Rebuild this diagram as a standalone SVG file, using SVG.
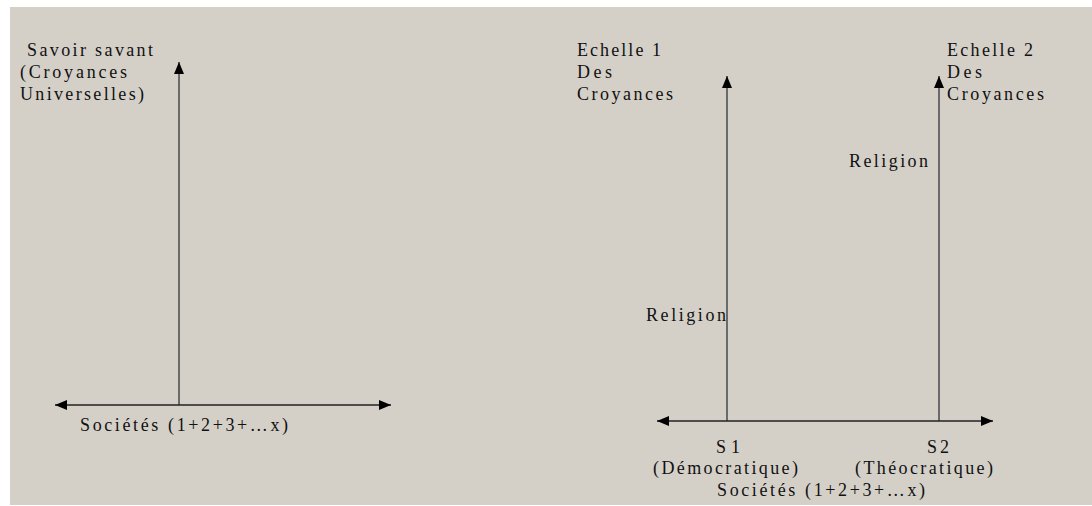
<svg xmlns="http://www.w3.org/2000/svg" width="1092" height="506" viewBox="0 0 1092 506">
  <style>
    .t { font-family: "Liberation Serif", "Times New Roman", serif; font-size: 18px; fill: #111; }
    .v { stroke: #6a6a6a; stroke-width: 2; fill: none; }
    .h { stroke: #222; stroke-width: 1.5; fill: none; }
  </style>
  <defs>
    <marker id="ah" markerUnits="userSpaceOnUse" markerWidth="14" markerHeight="12" viewBox="0 0 14 12" refX="13" refY="6" orient="auto-start-reverse">
      <path d="M1,1 L13,6 L1,11 Z" fill="#000"/>
    </marker>
  </defs>
  <rect x="10" y="7" width="1082" height="498" fill="#d4d0c8"/>

  <g id="connectors">
    <line class="v" x1="179" y1="405" x2="179" y2="62" marker-end="url(#ah)"/>
    <line class="h" x1="55" y1="405" x2="391" y2="405" marker-start="url(#ah)" marker-end="url(#ah)"/>
    <line class="v" x1="727" y1="421" x2="727" y2="76" marker-end="url(#ah)"/>
    <line class="v" x1="939" y1="421" x2="939" y2="76" marker-end="url(#ah)"/>
    <line class="h" x1="657" y1="421" x2="993" y2="421" marker-start="url(#ah)" marker-end="url(#ah)"/>
  </g>

  <g id="savoir-savant">
    <text class="t" x="27" y="56" textLength="126" lengthAdjust="spacing">Savoir savant</text>
    <text class="t" x="20" y="78" textLength="107" lengthAdjust="spacing">(Croyances</text>
    <text class="t" x="20" y="100" textLength="124" lengthAdjust="spacing">Universelles)</text>
  </g>
  <g id="societes-left">
    <text class="t" x="80" y="431" textLength="208" lengthAdjust="spacing">Sociétés (1+2+3+…x)</text>
  </g>

  <g id="echelle-1">
    <text class="t" x="577" y="56" textLength="84" lengthAdjust="spacing">Echelle 1</text>
    <text class="t" x="577" y="78" textLength="35" lengthAdjust="spacing">Des</text>
    <text class="t" x="577" y="100" textLength="96" lengthAdjust="spacing">Croyances</text>
  </g>
  <g id="echelle-2">
    <text class="t" x="947" y="56" textLength="86" lengthAdjust="spacing">Echelle 2</text>
    <text class="t" x="947" y="78" textLength="35" lengthAdjust="spacing">Des</text>
    <text class="t" x="947" y="100" textLength="97" lengthAdjust="spacing">Croyances</text>
  </g>
  <g id="religion-2">
    <text class="t" x="849" y="167" textLength="79" lengthAdjust="spacing">Religion</text>
  </g>
  <g id="religion-1">
    <text class="t" x="646" y="321" textLength="80" lengthAdjust="spacing">Religion</text>
  </g>
  <g id="s1">
    <text class="t" x="716" y="453" textLength="24" lengthAdjust="spacing">S1</text>
    <text class="t" x="653" y="474" textLength="145" lengthAdjust="spacing">(Démocratique)</text>
  </g>
  <g id="s2">
    <text class="t" x="927" y="453" textLength="22" lengthAdjust="spacing">S2</text>
    <text class="t" x="855" y="474" textLength="138" lengthAdjust="spacing">(Théocratique)</text>
  </g>
  <g id="societes-right">
    <text class="t" x="717" y="496" textLength="208" lengthAdjust="spacing">Sociétés (1+2+3+…x)</text>
  </g>
</svg>
